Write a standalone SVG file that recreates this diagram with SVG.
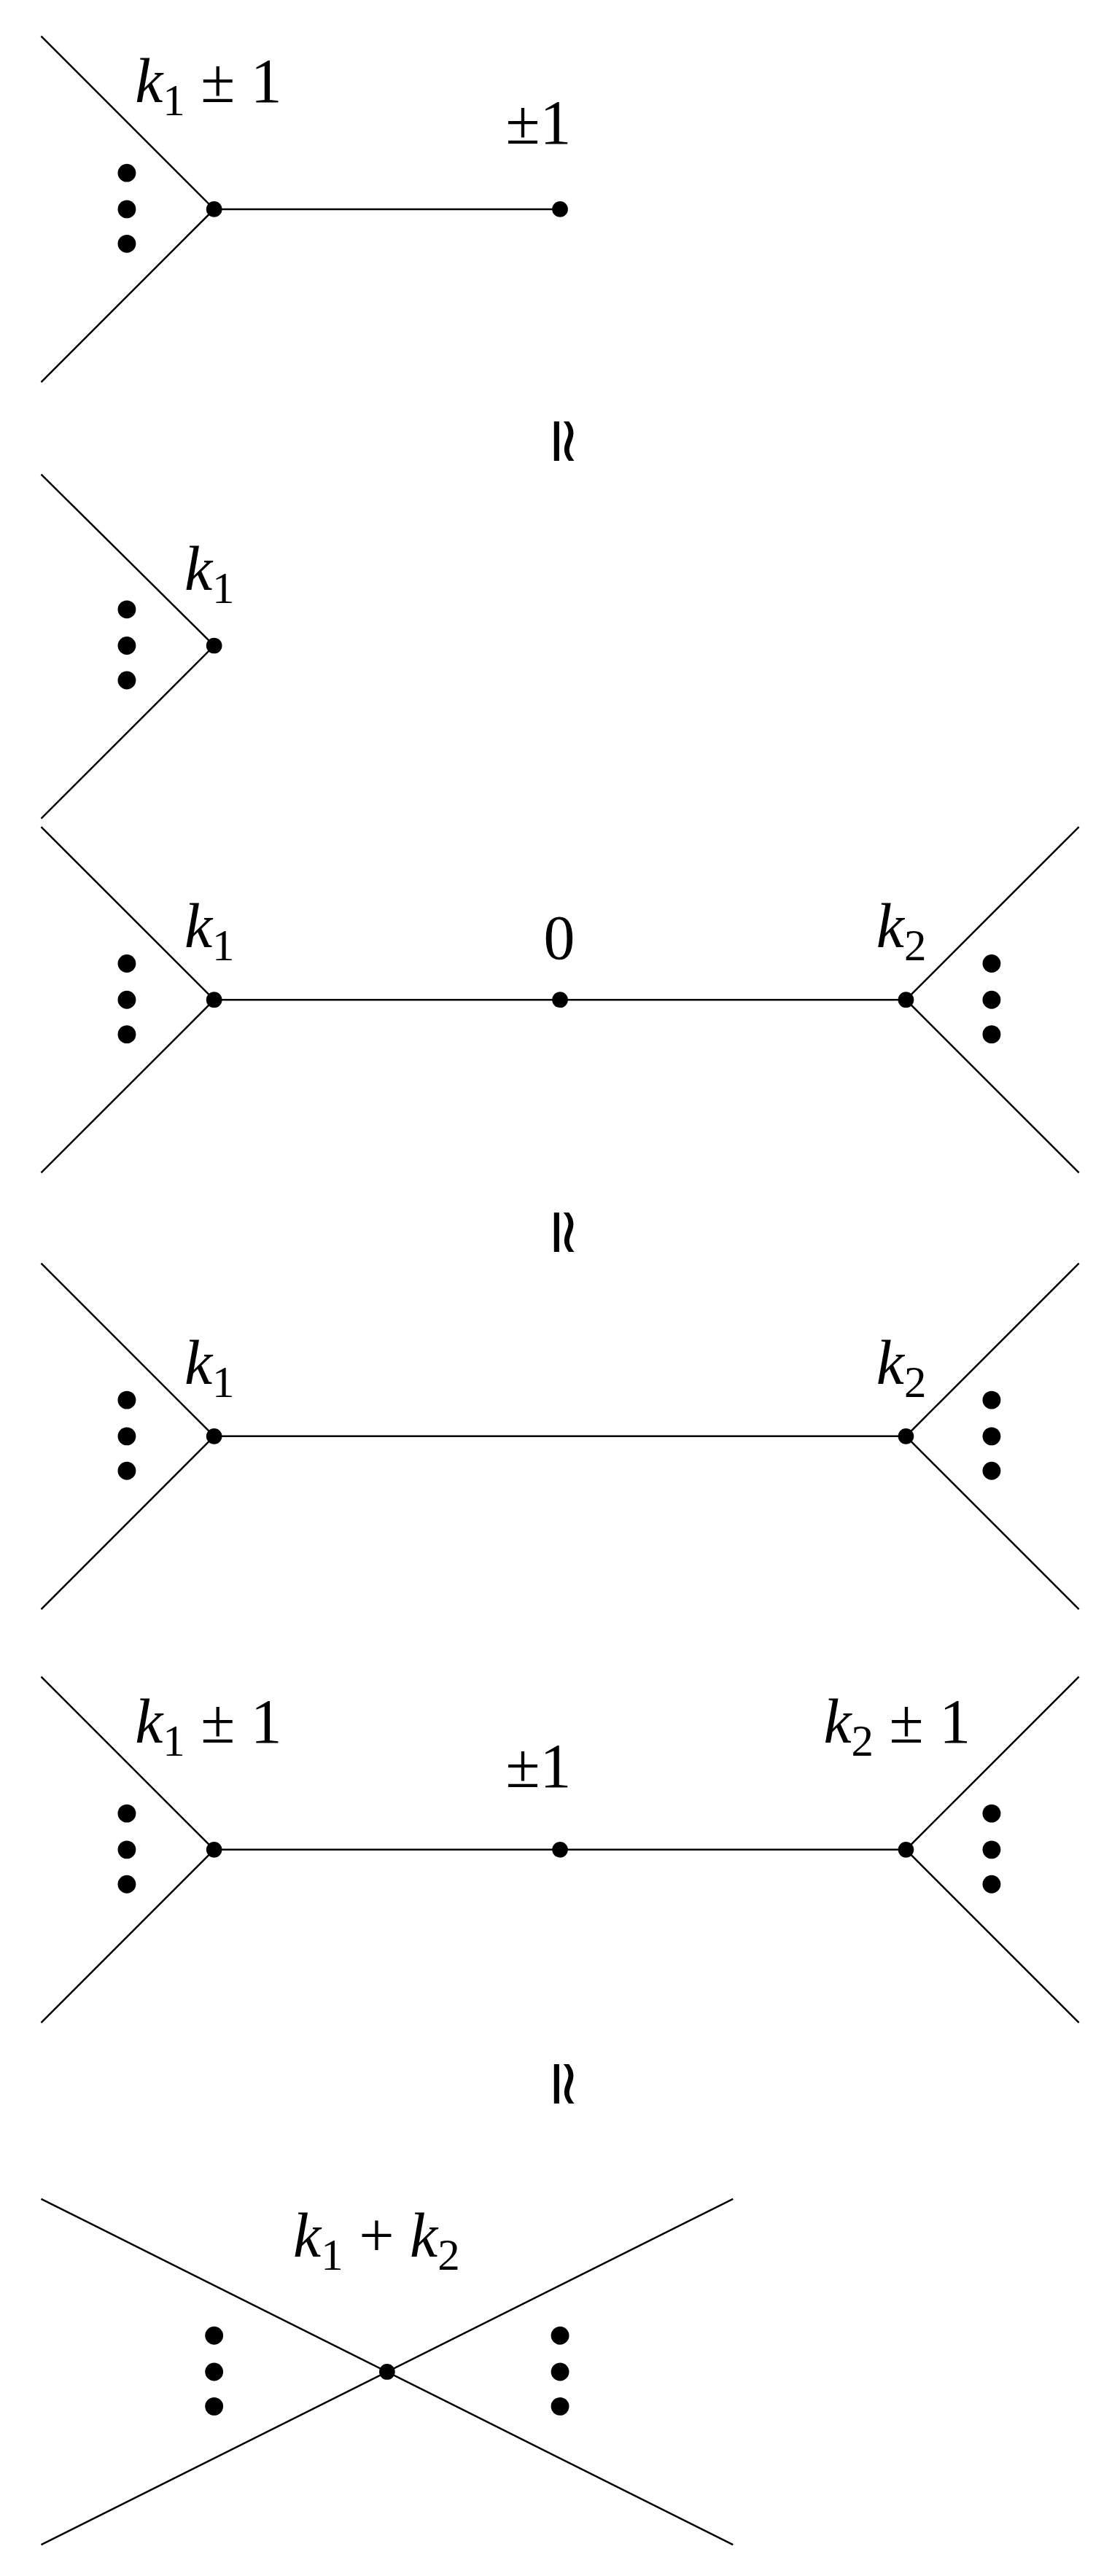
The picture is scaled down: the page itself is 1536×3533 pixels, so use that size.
<svg xmlns="http://www.w3.org/2000/svg" width="1536" height="3533" viewBox="0 0 1536 3533">
<style>
.e{stroke:#000;stroke-width:1.1;fill:none}
.v{fill:#000}
.t{font-family:"Liberation Serif","Times New Roman",serif;font-size:38px;fill:#000}
.i{font-style:italic}
.s{font-size:27px}
</style>
<defs>
<g id="dl"><circle cx="0" cy="-22" r="5.5"/><circle cx="0" cy="0" r="5.5"/><circle cx="0" cy="21" r="5.5"/></g>
</defs>
<rect width="1536" height="3533" fill="#fff"/>
<g transform="scale(2.259)">
<g id="connectors">
<path class="e" d="M25 22L130 127L25 232M130 127H340"/>
<path class="e" d="M25 288L130 392L25 497"/>
<path class="e" d="M25 502L130 607L25 712M130 607H550M655 502L550 607L655 712"/>
<path class="e" d="M25 767L130 872L25 977M130 872H550M655 767L550 872L655 977"/>
<path class="e" d="M25 1018L130 1123L25 1228M130 1123H550M655 1018L550 1123L655 1228"/>
<path class="e" d="M25 1335L445 1545M25 1545L445 1335"/>
</g>
<g id="p1"><circle class="v" cx="130" cy="127" r="4.8"/><circle class="v" cx="340" cy="127" r="4.8"/><use href="#dl" x="77" y="127"/>
<text class="t" x="82" y="62"><tspan class="i">k</tspan><tspan class="s" dy="8">1</tspan><tspan dy="-8"> ± 1</tspan></text>
<text class="t" x="307" y="87">±1</text></g>
<text class="t" transform="translate(330,268) rotate(90)" text-anchor="middle">≃</text>
<g id="p2"><circle class="v" cx="130" cy="392" r="4.8"/><use href="#dl" x="77" y="392"/>
<text class="t" x="112" y="358"><tspan class="i">k</tspan><tspan class="s" dy="8">1</tspan></text></g>
<g id="p3"><circle class="v" cx="130" cy="607" r="4.8"/><circle class="v" cx="340" cy="607" r="4.8"/><circle class="v" cx="550" cy="607" r="4.8"/><use href="#dl" x="77" y="607"/><use href="#dl" x="602" y="607"/>
<text class="t" x="112" y="575"><tspan class="i">k</tspan><tspan class="s" dy="8">1</tspan></text>
<text class="t" x="330" y="582">0</text>
<text class="t" x="532" y="575"><tspan class="i">k</tspan><tspan class="s" dy="8">2</tspan></text></g>
<text class="t" transform="translate(330,748) rotate(90)" text-anchor="middle">≃</text>
<g id="p4"><circle class="v" cx="130" cy="872" r="4.8"/><circle class="v" cx="550" cy="872" r="4.8"/><use href="#dl" x="77" y="872"/><use href="#dl" x="602" y="872"/>
<text class="t" x="112" y="840"><tspan class="i">k</tspan><tspan class="s" dy="8">1</tspan></text>
<text class="t" x="532" y="840"><tspan class="i">k</tspan><tspan class="s" dy="8">2</tspan></text></g>
<g id="p5"><circle class="v" cx="130" cy="1123" r="4.8"/><circle class="v" cx="340" cy="1123" r="4.8"/><circle class="v" cx="550" cy="1123" r="4.8"/><use href="#dl" x="77" y="1123"/><use href="#dl" x="602" y="1123"/>
<text class="t" x="82" y="1058"><tspan class="i">k</tspan><tspan class="s" dy="8">1</tspan><tspan dy="-8"> ± 1</tspan></text>
<text class="t" x="307" y="1085">±1</text>
<text class="t" x="500" y="1058"><tspan class="i">k</tspan><tspan class="s" dy="8">2</tspan><tspan dy="-8"> ± 1</tspan></text></g>
<text class="t" transform="translate(330,1265) rotate(90)" text-anchor="middle">≃</text>
<g id="p6"><circle class="v" cx="235" cy="1440" r="4.8"/><use href="#dl" x="130" y="1440"/><use href="#dl" x="340" y="1440"/>
<text class="t" x="178" y="1370"><tspan class="i">k</tspan><tspan class="s" dy="8">1</tspan><tspan dy="-8"> + </tspan><tspan class="i">k</tspan><tspan class="s" dy="8">2</tspan></text></g>
</g>
</svg>
